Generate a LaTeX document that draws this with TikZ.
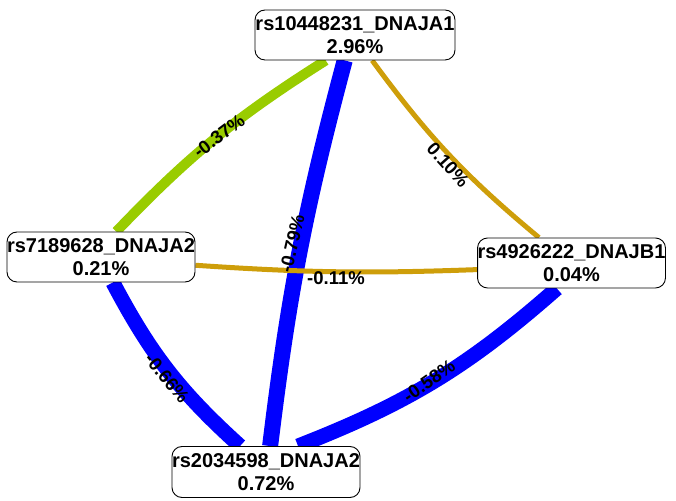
\documentclass[tikz,border=0pt]{standalone}
\usepackage{fontspec}
\setmainfont{Liberation Sans}
\usetikzlibrary{backgrounds}
\definecolor{edgegreen}{RGB}{153,204,0}
\definecolor{edgegold}{RGB}{206,158,10}
\definecolor{edgeblue}{RGB}{0,0,255}
\begin{document}
\begin{tikzpicture}[x=1pt,y=1pt,
  snp/.style={draw=black, line width=0.9pt, fill=white, rounded corners=10pt,
    minimum height=50pt, inner sep=0pt, align=center,
    font=\fontsize{20}{23}\selectfont\bfseries},
  elabel/.style={font=\fontsize{18.5}{20}\selectfont\bfseries, inner sep=0pt},
  gline/.style={draw=edgegreen, line width=10pt},
  oline/.style={draw=edgegold, line width=5pt},
  bline/.style={draw=edgeblue, line width=16pt}]
\useasboundingbox (0,0) rectangle (676,500);
\node[snp, minimum width=200pt] (top) at (355,465) {rs10448231\_DNAJA1\\2.96\%};
\node[snp, minimum width=188pt] (left) at (101,243) {rs7189628\_DNAJA2\\0.21\%};
\node[snp, minimum width=187pt] (right) at (571.5,237) {rs4926222\_DNAJB1\\0.04\%};
\node[snp, minimum width=188pt, minimum height=51pt] (bottom) at (266,28) {rs2034598\_DNAJA2\\0.72\%};
\begin{scope}[on background layer]
  \draw[gline] (top.221) to[bend right=7] (left.59);
  \draw[bline] (top.248) to[bend right=4] (bottom.81);
  \draw[oline] (top.304) to[bend right=7] (right.142);
  \draw[oline] (left.-5) to[bend right=3] (right.184);
  \draw[bline, line width=15pt] (left.295) to[bend right=10] (bottom.135);
  \draw[bline, line width=15pt] (bottom.39) to[bend right=10] (right.240);
\end{scope}
\node[elabel, rotate=37] (l1) at (219,364) {-0.37\%};
\node[elabel, rotate=77] (l2) at (292,256) {-0.79\%};
\node[elabel] (l3) at (336,222) {-0.11\%};
\node[elabel, rotate=-48] (l4) at (448,335) {0.10\%};
\node[elabel, rotate=-51] (l5) at (167,122) {-0.66\%};
\node[elabel, rotate=35] (l6) at (429,119) {-0.58\%};
\end{tikzpicture}
\end{document}
